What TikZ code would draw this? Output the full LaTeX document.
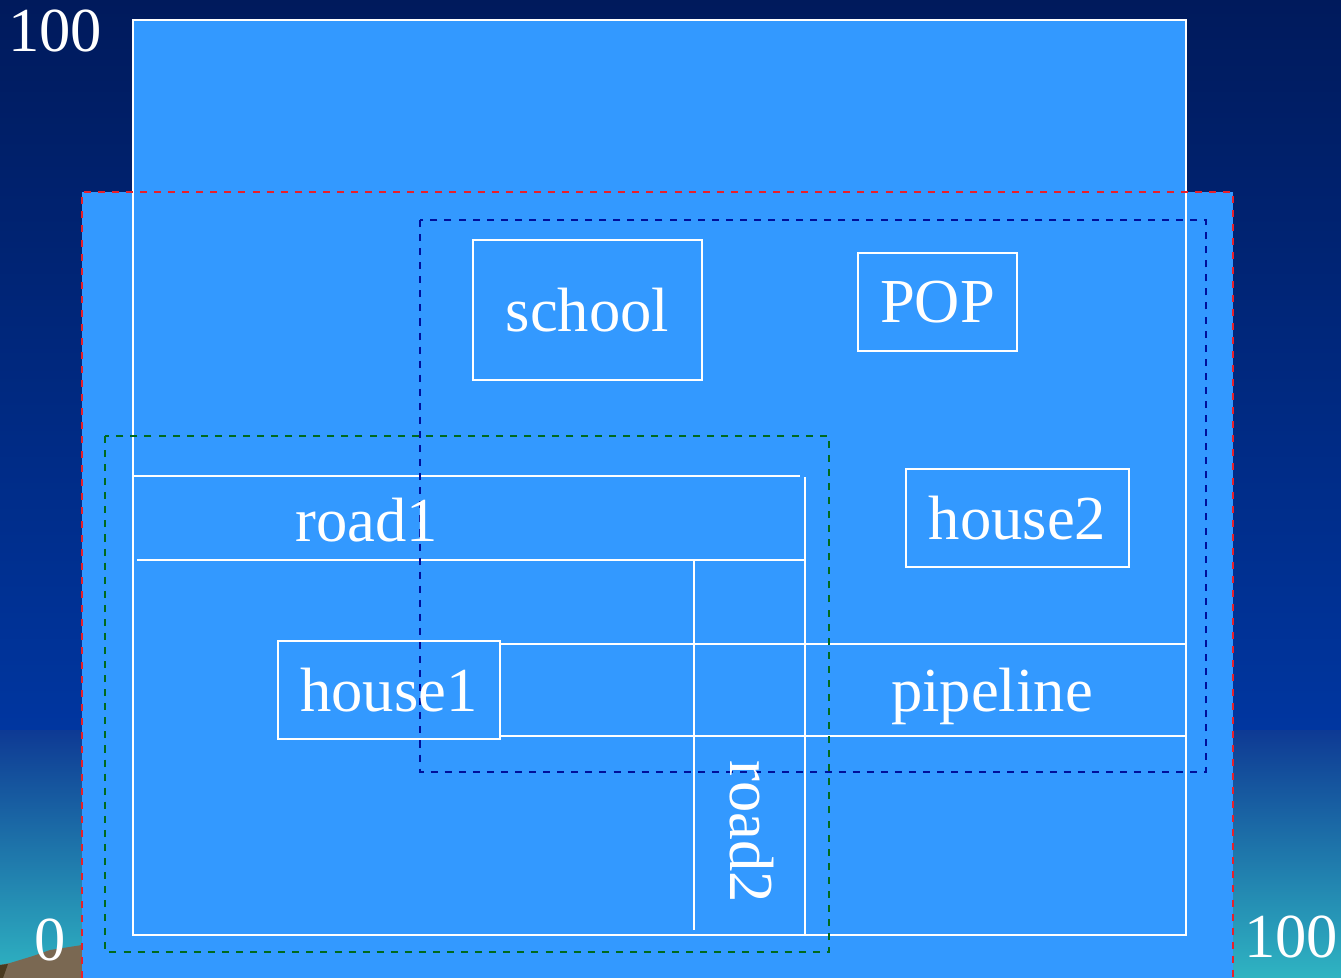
\documentclass[tikz,border=0pt]{standalone}
\usepackage{fontspec}
\setmainfont{Liberation Serif}
\usetikzlibrary{calc}

\definecolor{skytop}{HTML}{001A5C}
\definecolor{skymid}{HTML}{0036A0}
\definecolor{skylow}{HTML}{0E3A94}
\definecolor{sea}{HTML}{2FB4C2}
\definecolor{plan}{HTML}{3399FF}
\definecolor{hill}{HTML}{7A6852}
\definecolor{hilldark}{HTML}{4A3A20}
\definecolor{popzone}{HTML}{00109A}
\definecolor{schoolzone}{HTML}{006A1E}
\definecolor{areazone}{HTML}{E8202A}

\begin{document}
\begin{tikzpicture}[x=0.01cm,y=-0.01cm,
    every node/.style={text=white,font=\fontsize{17.8}{20}\selectfont},
    box/.style={draw=white,line width=0.5pt,inner sep=0pt},
    wall/.style={draw=white,line width=0.5pt},
    zone/.style={line width=0.8pt,dash pattern=on 2pt off 2pt}]
  \useasboundingbox (0,0) rectangle (1341,978);

  % background
  \shade[top color=skytop,bottom color=skymid] (0,0) rectangle (1341,730);
  \shade[top color=skylow,bottom color=sea] (0,730) rectangle (1341,978);
  \fill[hill] (0,978) -- (0,965) -- (10,963) -- (33,956) -- (50,950) -- (82,945) -- (82,978) -- cycle;
  \fill[hilldark] (0,978) -- (0,965) -- (8,964) -- (3,978) -- cycle;

  % the plan
  \fill[plan] (133,20) rectangle (1186,192);
  \fill[plan] (82,192) rectangle (1233,978);
  \draw[wall] (133,20) rectangle (1186,935);

  % roads and pipeline
  \draw[wall] (133,476) -- (800,476);
  \draw[wall] (137,560) -- (805,560);
  \draw[wall] (805,477) -- (805,935);
  \draw[wall] (694,560) -- (694,930);
  \draw[wall] (500,644) -- (1186,644);
  \draw[wall] (500,736) -- (1186,736);

  % zones
  \draw[zone,areazone] (82,978) -- (82,192) -- (1233,192) -- (1233,978);
  \draw[zone,popzone] (420,220) rectangle (1206,772);
  \draw[zone,schoolzone] (105,436) rectangle (829,952);

  % buildings
  \node[box,minimum width=2.29cm,minimum height=1.40cm] (school) at (587.5,310) {school};
  \node[box,minimum width=1.59cm,minimum height=0.98cm] (pop) at (937.5,302) {POP};
  \node[box,minimum width=2.23cm,minimum height=0.98cm] (house2) at (1017.5,518) {house2};
  \node[box,minimum width=2.22cm,minimum height=0.98cm] (house1) at (389,690) {house1};

  \node (road1) at (367,520) {road1};
  \node[rotate=-90] (road2) at (752,832) {road2};
  \node (pipeline) at (992,696) {pipeline};

  % axis values
  \node (ymax) at (55,31) {100};
  \node (origin) at (50,940) {0};
  \node (xmax) at (1291,937) {100};
\end{tikzpicture}
\end{document}
